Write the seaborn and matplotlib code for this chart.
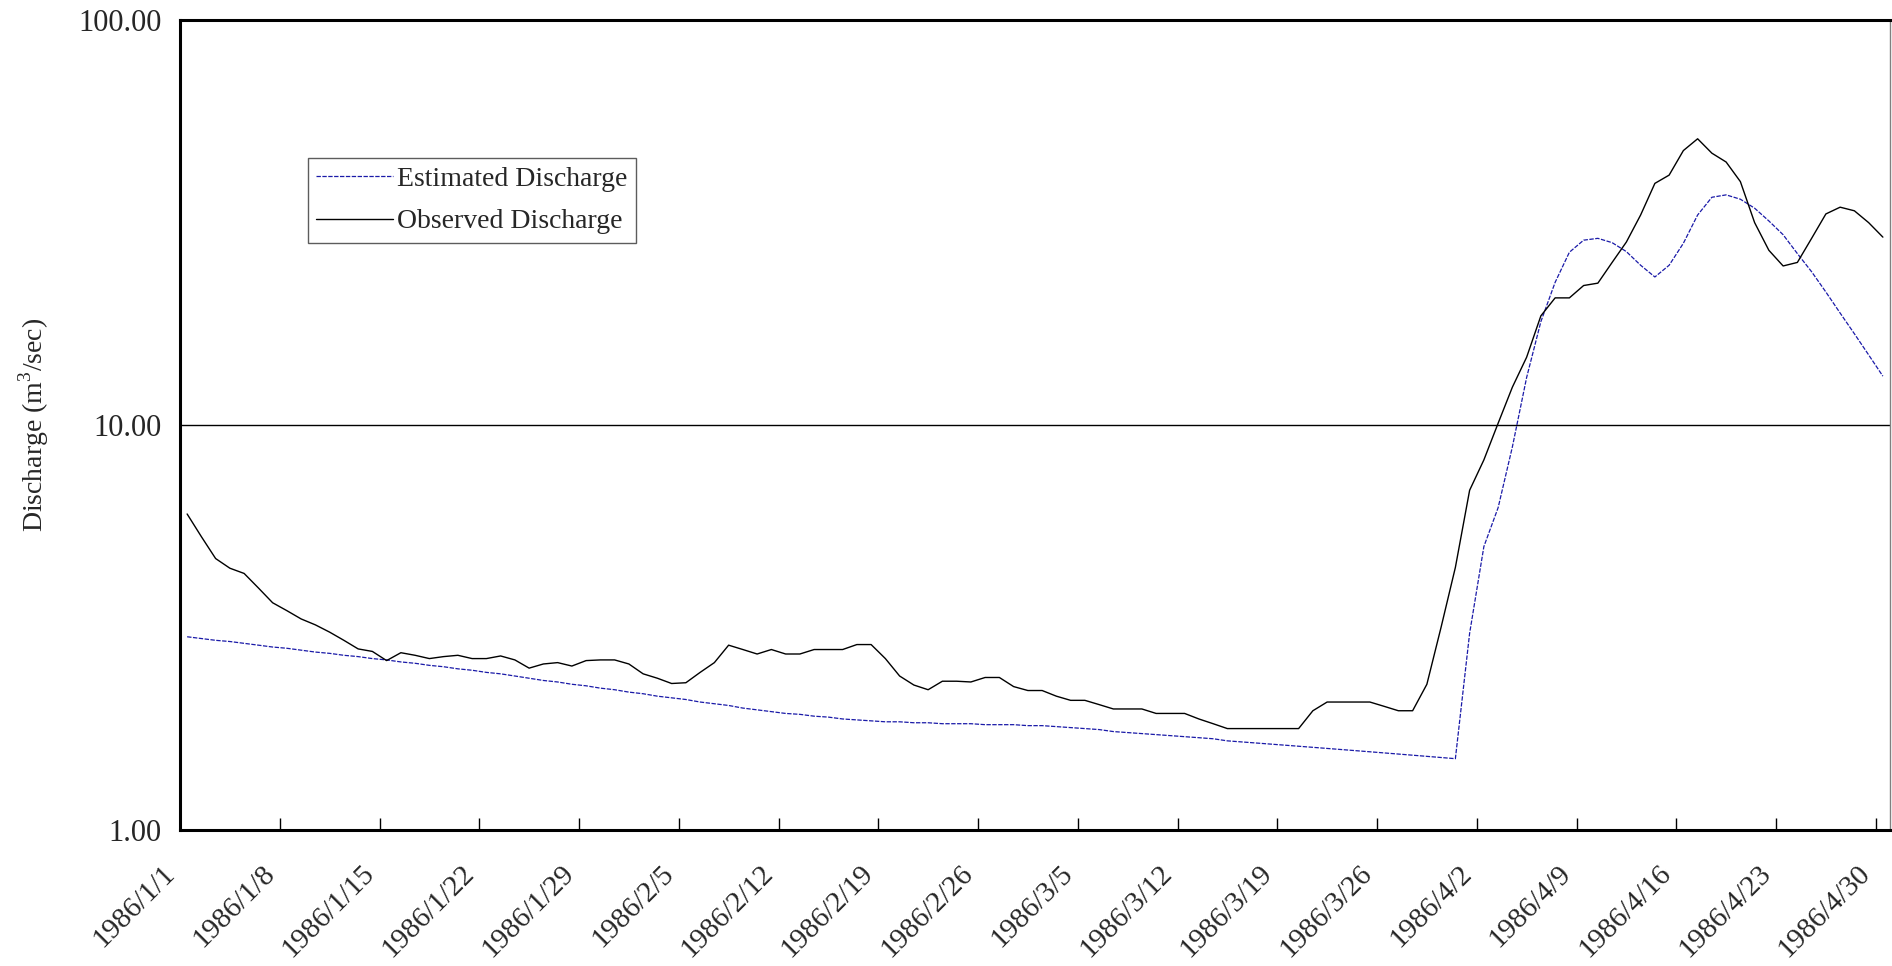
import matplotlib
matplotlib.use("Agg")
import matplotlib.pyplot as plt
import matplotlib.ticker as mticker
import numpy as np
import pandas as pd
import seaborn as sns

# Daily discharge, 1986/1/1 - 1986/4/30 (m3/sec)
dates = pd.date_range("1986-01-01", "1986-04-30", freq="D")

observed = [
    6.03, 5.30, 4.68, 4.43, 4.30, 3.96, 3.64, 3.48, 3.32, 3.21,
    3.08, 2.94, 2.80, 2.76, 2.62, 2.74, 2.70, 2.65, 2.68, 2.70,
    2.65, 2.65, 2.69, 2.63, 2.51, 2.57, 2.59, 2.54, 2.62, 2.63,
    2.63, 2.57, 2.43, 2.37, 2.30, 2.31, 2.45, 2.59, 2.86, 2.79,
    2.72, 2.79, 2.72, 2.72, 2.79, 2.79, 2.79, 2.87, 2.87, 2.65,
    2.40, 2.28, 2.22, 2.33, 2.33, 2.32, 2.38, 2.38, 2.26, 2.21,
    2.21, 2.14, 2.09, 2.09, 2.04, 1.99, 1.99, 1.99, 1.94, 1.94,
    1.94, 1.88, 1.83, 1.78, 1.78, 1.78, 1.78, 1.78, 1.78, 1.97,
    2.07, 2.07, 2.07, 2.07, 2.02, 1.97, 1.97, 2.29, 3.17, 4.45,
    6.90, 8.20, 10.1, 12.4, 14.7, 18.6, 20.6, 20.6, 22.1, 22.4,
    25.2, 28.3, 33.0, 39.5, 41.4, 47.6, 50.9, 46.9, 44.6, 39.9,
    31.6, 27.0, 24.7, 25.2, 28.9, 33.2, 34.5, 33.8, 31.6, 29.1,
]

estimated = [
    3.00, 2.97, 2.94, 2.92, 2.89, 2.86, 2.83, 2.81, 2.78, 2.75,
    2.73, 2.70, 2.68, 2.65, 2.63, 2.60, 2.58, 2.55, 2.53, 2.50,
    2.48, 2.45, 2.43, 2.40, 2.37, 2.34, 2.32, 2.29, 2.27, 2.24,
    2.22, 2.19, 2.17, 2.14, 2.12, 2.10, 2.07, 2.05, 2.03, 2.00,
    1.98, 1.96, 1.94, 1.93, 1.91, 1.90, 1.88, 1.87, 1.86, 1.85,
    1.85, 1.84, 1.84, 1.83, 1.83, 1.83, 1.82, 1.82, 1.82, 1.81,
    1.81, 1.80, 1.79, 1.78, 1.77, 1.75, 1.74, 1.73, 1.72, 1.71,
    1.70, 1.69, 1.68, 1.66, 1.65, 1.64, 1.63, 1.62, 1.61, 1.60,
    1.59, 1.58, 1.57, 1.56, 1.55, 1.54, 1.53, 1.52, 1.51, 1.50,
    3.06, 5.01, 6.25, 8.83, 13.1, 18.0, 22.5, 26.7, 28.6, 28.9,
    28.2, 26.8, 24.8, 23.2, 24.8, 28.1, 33.0, 36.5, 37.0, 36.1,
    34.3, 31.9, 29.5, 26.5, 23.9, 21.3, 18.9, 16.8, 14.9, 13.2,
]

tick_labels = [
    "1986/1/1", "1986/1/8", "1986/1/15", "1986/1/22", "1986/1/29",
    "1986/2/5", "1986/2/12", "1986/2/19", "1986/2/26", "1986/3/5",
    "1986/3/12", "1986/3/19", "1986/3/26", "1986/4/2", "1986/4/9",
    "1986/4/16", "1986/4/23", "1986/4/30",
]
y_ticks = [1, 10, 100]
series_names = ["Estimated Discharge", "Observed Discharge"]

sns.set_theme(style="white")
plt.rcParams["font.family"] = ["Liberation Serif", "DejaVu Serif"]
plt.rcParams["mathtext.fontset"] = "custom"
plt.rcParams["mathtext.rm"] = "Liberation Serif"

fig = plt.figure(figsize=(18.92, 9.66), dpi=100)
ax = fig.add_axes([180 / 1892, 1 - 830 / 966, 1710 / 1892, 810 / 966])

# each day's value sits in the middle of its date slot
df = pd.DataFrame({
    "date": dates + pd.Timedelta(hours=12),
    "estimated": estimated,
    "observed": observed,
})

sns.lineplot(data=df, x="date", y="estimated", ax=ax, color="#1a1aa8",
             linewidth=0.9, label=series_names[0])
ax.lines[-1].set_dashes((3.5, 1.2))
sns.lineplot(data=df, x="date", y="observed", ax=ax, color="black",
             linewidth=1.0, label=series_names[1])

ax.set_yscale("log")
ax.set_ylim(1, 100)
ax.set_yticks(y_ticks)
ax.yaxis.set_major_formatter(mticker.FuncFormatter(lambda v, _: f"{v:.2f}"))
ax.yaxis.set_minor_locator(mticker.NullLocator())
ax.yaxis.grid(True, which="major", color="black", linewidth=1.0)
ax.xaxis.grid(False)

tick_dates = [pd.Timestamp(s.replace("/", "-")) for s in tick_labels]
ax.set_xlim(pd.Timestamp("1986-01-01"), pd.Timestamp("1986-05-01"))
ax.set_xticks(tick_dates)
ax.set_xticklabels(tick_labels, rotation=45, ha="right", va="top",
                   fontsize=21)

ax.tick_params(axis="x", direction="in", length=9, width=1, color="black",
               pad=22, bottom=True)
ax.tick_params(axis="y", length=0, pad=13, labelsize=22)

ax.set_xlabel("")
ax.set_ylabel("Discharge (m$^\\mathrm{3}$/sec)", fontsize=20, labelpad=20)

for side in ["left", "bottom", "top"]:
    ax.spines[side].set_color("black")
    ax.spines[side].set_linewidth(2.2)
ax.spines["right"].set_color("#808080")
ax.spines["right"].set_linewidth(1.0)

leg = ax.legend(loc="upper left", bbox_to_anchor=(0.0749, 0.8296),
                borderaxespad=0, fontsize=20, frameon=True, fancybox=False,
                edgecolor="#333333", handlelength=2.75, handletextpad=0.15,
                labelspacing=0.62, borderpad=0.3)
leg.get_frame().set_linewidth(1.0)

fig.savefig("out.png", dpi=100, facecolor="white")
